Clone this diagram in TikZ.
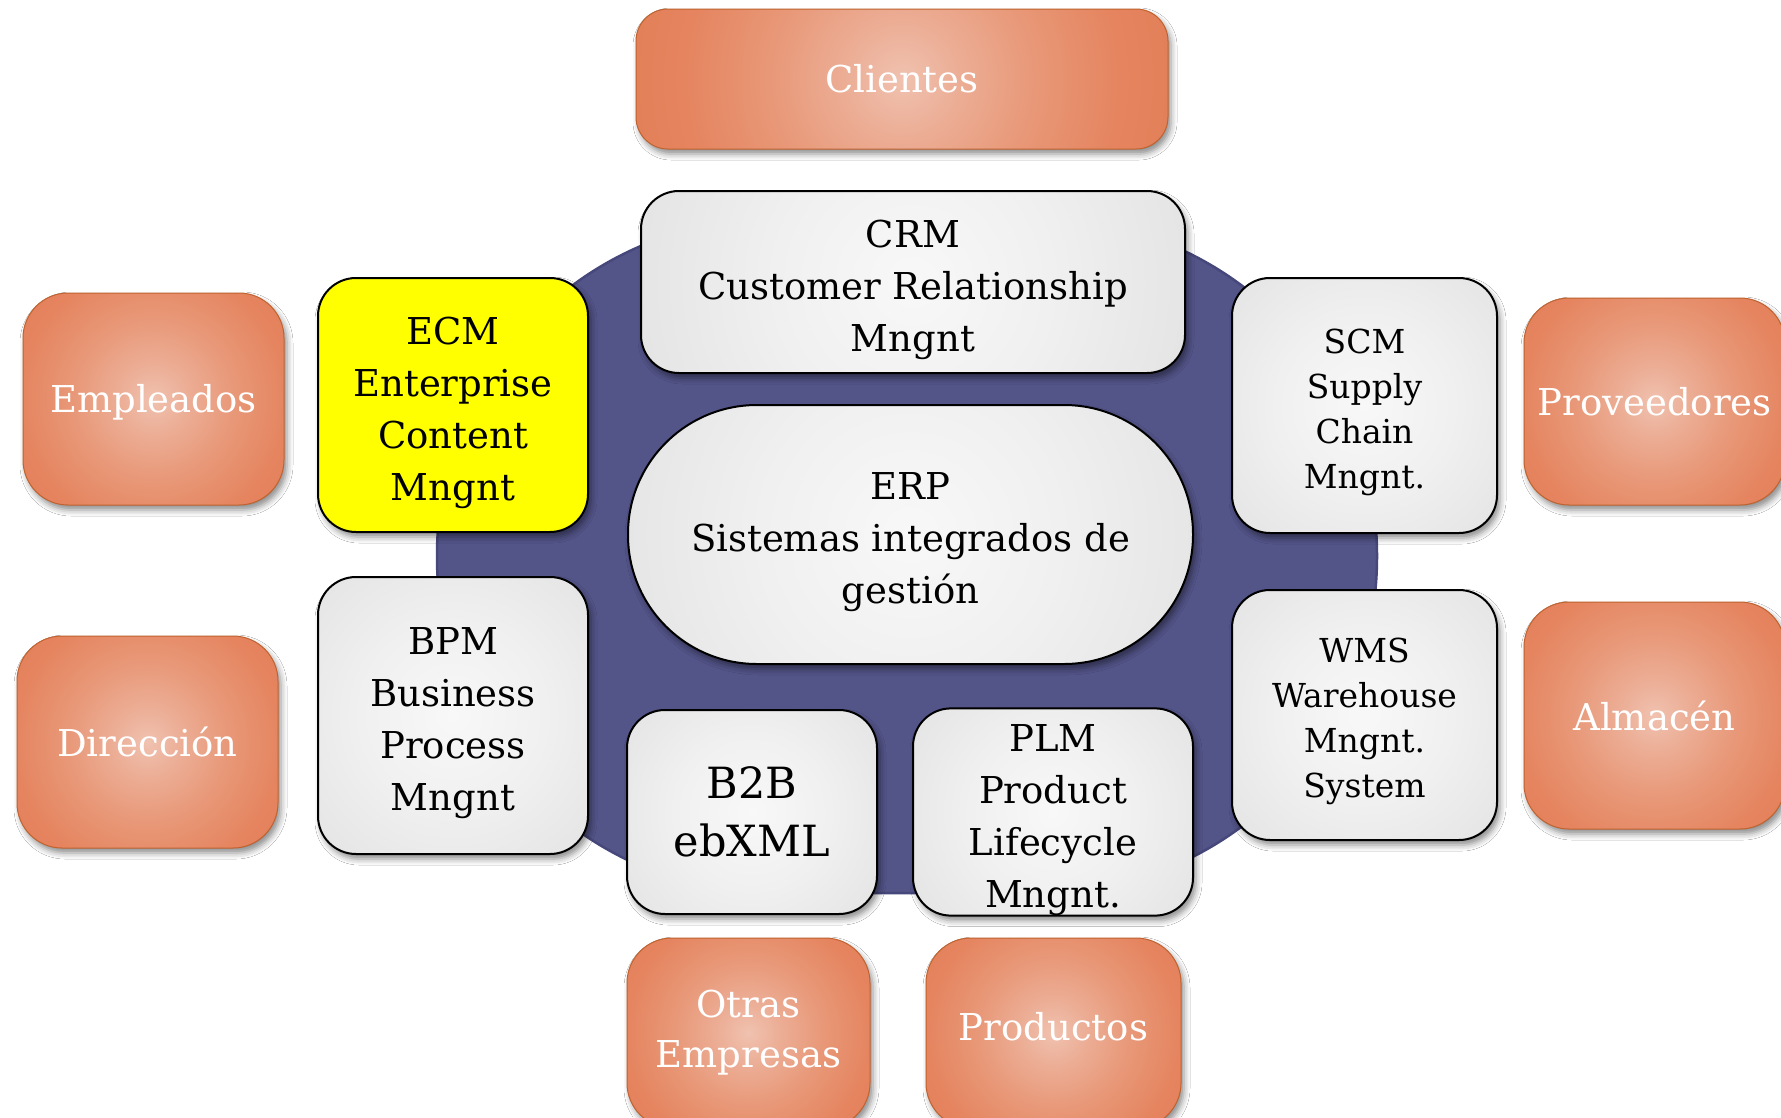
\documentclass[tikz,border=0pt]{standalone}
\usepackage{fontspec}
\setmainfont{DejaVu Serif}
\usetikzlibrary{shadows,shadows.blur}
\newcommand{\myTopA}{\rule{0pt}{43pt}}
\newcommand{\myTopB}{\rule{0pt}{38pt}}
\definecolor{purp}{HTML}{535488}
\definecolor{purpd}{HTML}{46477A}
\definecolor{orC}{HTML}{F0C2B0}
\definecolor{orL}{HTML}{ECAE96}
\definecolor{orK}{HTML}{E89878}
\definecolor{orM}{HTML}{E5845F}
\definecolor{orE}{HTML}{DE7B52}
\definecolor{orF}{HTML}{D06E3E}
\definecolor{orD}{HTML}{BE6030}
\definecolor{orB}{HTML}{C0622F}
\definecolor{grC}{HTML}{F8F8F8}
\definecolor{grL}{HTML}{F0F0F0}
\definecolor{grM}{HTML}{E4E4E4}
\definecolor{grE}{HTML}{D4D4D4}
\definecolor{grD}{HTML}{BEBEBE}
\definecolor{ecmY}{HTML}{FFFF00}
\pgfdeclareradialshading{orangeball}{\pgfpoint{0bp}{0bp}}{color(0bp)=(orC); color(5bp)=(orL); color(12bp)=(orK); color(20bp)=(orM); color(30bp)=(orE); color(40bp)=(orF); color(50bp)=(orD)}
\pgfdeclareradialshading{grayball}{\pgfpoint{0bp}{0bp}}{color(0bp)=(grC); color(12bp)=(grL); color(25bp)=(grM); color(38bp)=(grE); color(50bp)=(grD)}
\tikzset{
  bshadow/.style={blur shadow={shadow xshift=3pt, shadow yshift=-5pt, shadow blur radius=6pt, shadow opacity=45}},
  orbox/.style={draw=orB, line width=1pt, rounded corners=45pt, text=white, align=center, inner sep=0pt, bshadow, font=\fontsize{37}{50}\selectfont,
    path picture={\shade[shading=orangeball] (path picture bounding box.center) circle (#1);}},
  boxbase/.style={draw=black, line width=2pt, rounded corners=38pt, text=black, align=center, inner sep=0pt, bshadow, font=\fontsize{37}{52}\selectfont},
  grbox/.style={boxbase, path picture={\shade[shading=grayball] (path picture bounding box.center) circle (#1);}},
  ecmbox/.style={boxbase, fill=ecmY},
  smalltext/.style={font=\fontsize{33}{45}\selectfont},
  bigtext/.style={font=\fontsize{43}{58}\selectfont},
  ringshape/.style={fill=purp, draw=purpd, line width=2.5pt, rounded corners=336pt, inner sep=0pt}
}
\begin{document}
\begin{tikzpicture}[x=1pt,y=-1pt]
\useasboundingbox (0,0) rectangle (1781,1117);
\fill[white] (0,0) rectangle (1781,1117);
% central purple stadium
\node[ringshape, minimum width=940, minimum height=674] (ring) at (907,556) {};
% outer orange boxes
\node[orbox=275pt, rounded corners=32pt, minimum width=532, minimum height=140] (cli) at (902,79) {Clientes};
\node[orbox=168pt, minimum width=261, minimum height=212, text height=35pt] (emp) at (153.5,399) {Empleados};
\node[orbox=168pt, minimum width=261, minimum height=212] (dir) at (147.5,742) {Dirección};
\node[orbox=167pt, minimum width=261, minimum height=207] (prov) at (1654.5,401.5) {Proveedores};
\node[orbox=173pt, minimum width=261, minimum height=227] (alm) at (1654.5,715.5) {Almacén};
\node[orbox=154pt, minimum width=243, minimum height=190] (otr) at (748.5,1033) {Otras\\Empresas};
\node[orbox=159pt, minimum width=255, minimum height=190, text depth=13pt] (prod) at (1053.5,1033) {Productos};
% inner boxes
\node[grbox=287pt, minimum width=544, minimum height=182] (crm) at (913,282) {\myTopA CRM\\Customer Relationship\\Mngnt};
\node[ecmbox, minimum width=270, minimum height=254] (ecm) at (453,405) {\myTopA ECM\\Enterprise\\Content\\Mngnt};
\node[grbox=184pt, smalltext, minimum width=265, minimum height=255] (scm) at (1364.5,405.5) {\myTopB SCM\\Supply\\Chain\\Mngnt.};
\node[grbox=311pt, rounded corners=129pt, minimum width=565, minimum height=259] (erp) at (910.5,534.5) {\myTopA ERP\\Sistemas integrados de\\gestión};
\node[grbox=193pt, minimum width=270, minimum height=277] (bpm) at (453,715.5) {\myTopA BPM\\Business\\Process\\Mngnt};
\node[grbox=182pt, smalltext, minimum width=265, minimum height=250] (wms) at (1364.5,715) {\myTopB WMS\\Warehouse\\Mngnt.\\System};
\node[grbox=161pt, bigtext, minimum width=250, minimum height=204] (b2b) at (752,812) {B2B\\ebXML};
\node[grbox=173pt, minimum width=280, minimum height=204] (plm) at (1053,812) {\myTopA PLM\\Product\\Lifecycle\\Mngnt.};
\end{tikzpicture}
\end{document}
